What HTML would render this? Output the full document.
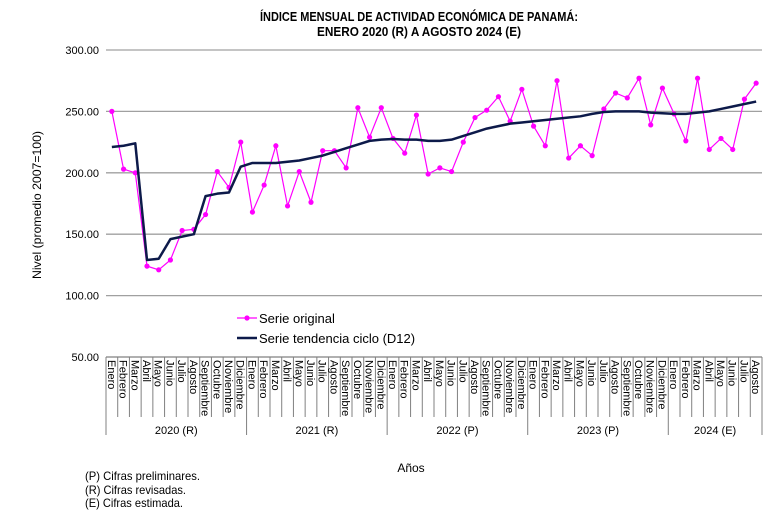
<!DOCTYPE html>
<html><head><meta charset="utf-8"><style>
body{margin:0;background:#fff;}
svg{display:block;font-family:"Liberation Sans",Arial,sans-serif;}
</style></head><body>
<svg id="chart" width="779" height="523" viewBox="0 0 779 523" xmlns="http://www.w3.org/2000/svg">
<g font-weight="bold" font-size="13" text-anchor="middle" fill="#000">
<text x="419" y="21" textLength="318" lengthAdjust="spacingAndGlyphs">ÍNDICE MENSUAL DE ACTIVIDAD ECONÓMICA DE PANAMÁ:</text>
<text x="419" y="36" textLength="204" lengthAdjust="spacingAndGlyphs">ENERO 2020 (R) A AGOSTO 2024 (E)</text>
</g>
<text transform="translate(41,205) rotate(-90)" text-anchor="middle" font-size="12" textLength="148" lengthAdjust="spacingAndGlyphs">Nivel (promedio 2007=100)</text>
<text x="411" y="472" text-anchor="middle" font-size="12">Años</text>
<g font-size="12">
<text x="85" y="480" textLength="115" lengthAdjust="spacingAndGlyphs">(P) Cifras preliminares.</text>
<text x="85" y="494" textLength="101" lengthAdjust="spacingAndGlyphs">(R) Cifras revisadas.</text>
<text x="85" y="507" textLength="98" lengthAdjust="spacingAndGlyphs">(E) Cifras estimada.</text>
</g>
<g id="grid"></g><g id="axes"></g><g id="series"></g>
<g font-size="13">
<g>
<line x1="237" y1="318" x2="257" y2="318" stroke="#ff00ff" stroke-width="1.2"/><circle cx="247" cy="318" r="2.6" fill="#ff00ff"/>
<text x="259" y="323">Serie original</text></g>
<g>
<line x1="237" y1="338" x2="257" y2="338" stroke="#0d1a4a" stroke-width="2.5"/>
<text x="259" y="343">Serie tendencia ciclo (D12)</text></g>
</g>
</svg>
<script>
const months=["Enero","Febrero","Marzo","Abril","Mayo","Junio","Julio","Agosto","Septiembre","Octubre","Noviembre","Diciembre"];
const years=["2020 (R)","2021 (R)","2022 (P)","2023 (P)","2024 (E)"];
const yearCounts=[12,12,12,12,8];
const yTicks=[50,100,150,200,250,300];
const original=[250,203,200,124,121,129,153,154,166,201,188,225,
168,190,222,173,201,176,218,218,204,253,229,253,
228,216,247,199,204,201,225,245,251,262,242,268,
238,222,275,212,222,214,252,265,261,277,239,269,
248,226,277,219,228,219,260,273];
const trend=[221,222,224,129,130,146,148,150,181,183,184,205,
208,208,208,209,210,212,214,217,220,223,226,227,
227.5,227,227,226,226,227,230,233,236,238,240,241,
242,243,244,245,246,248,249.5,250,250,250,249,248.5,
248,248,249,250,252,254,256,258];
const NS="http://www.w3.org/2000/svg";
const X0=106,X1=762,Y0=357,Y1=50,N=original.length;
const bw=(X1-X0)/N;
const xs=i=>X0+bw*(i+0.5);
const ys=v=>Y0-(v-50)/(300-50)*(Y0-Y1);
function mk(t,a,p){const e=document.createElementNS(NS,t);for(const k in a)e.setAttribute(k,a[k]);p.appendChild(e);return e;}
const grid=document.getElementById('grid'),axes=document.getElementById('axes'),ser=document.getElementById('series');
yTicks.forEach(v=>{
 if(v>50){const l=mk('line',{x1:X0,x2:X1,y1:ys(v),y2:ys(v),stroke:'#a0a0a0','stroke-width':1.3},grid);
 
 }
 const t=mk('text',{x:99,y:ys(v)+4,'text-anchor':'end','font-size':11},axes);t.textContent=v.toFixed(2);
 
 
});
const ax=mk('line',{x1:X0,x2:X1,y1:Y0,y2:Y0,stroke:'#808080','stroke-width':1.2},axes);


let idx=0;
yearCounts.forEach((c,g)=>{
 const gx=X0+bw*idx;
 const gl=mk('line',{x1:gx,x2:gx,y1:Y0,y2:435,stroke:'#808080'},axes);
 
 
 for(let m=0;m<c;m++){
  const i=idx+m;
  if(m>0){const tl=mk('line',{x1:X0+bw*i,x2:X0+bw*i,y1:Y0,y2:417,stroke:'#808080'},axes);
  
  }
  const t=mk('text',{transform:`translate(${xs(i)-4},360) rotate(90)`,'font-size':11},axes);t.textContent=months[m];
  
  
 }
 const yt=mk('text',{x:gx+bw*c/2,y:434,'text-anchor':'middle','font-size':11},axes);yt.textContent=years[g];
 
 
 idx+=c;
});
const endG=mk('line',{x1:X1,x2:X1,y1:Y0,y2:435,stroke:'#808080'},axes);


const po=mk('polyline',{points:original.map((v,i)=>xs(i)+','+ys(v)).join(' '),fill:'none',stroke:'#ff00ff','stroke-width':1.2},ser);


original.forEach((v,i)=>{const c=mk('circle',{cx:xs(i),cy:ys(v),r:2.6,fill:'#ff00ff'},ser);
 
 });
const pt=mk('polyline',{points:trend.map((v,i)=>xs(i)+','+ys(v)).join(' '),fill:'none',stroke:'#0d1a4a','stroke-width':2.5,'stroke-linejoin':'round'},ser);


</script>
</body></html>
